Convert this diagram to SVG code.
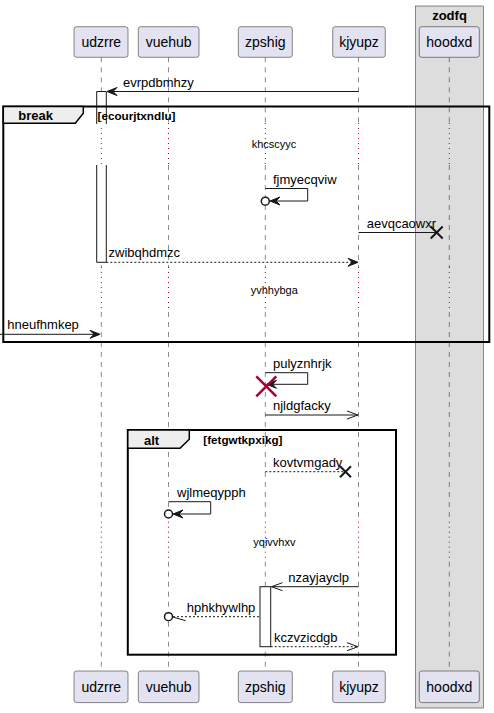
<svg xmlns="http://www.w3.org/2000/svg" width="494" height="713" viewBox="0 0 494 713">
  <defs>
    <style>
      text { font-family: "Liberation Sans", Arial, sans-serif; fill: #000; }
      .pbox { fill: #E2E2F0; stroke: #181818; stroke-width: 0.5; }
      .pname { font-size: 14px; text-anchor: middle; }
      .life { stroke: #181818; stroke-width: 0.5; stroke-dasharray: 5,5; fill: none; }
      .delay { stroke: #A80036; stroke-width: 1; stroke-dasharray: 1,4; fill: none; }
      .msg { stroke: #181818; stroke-width: 1; fill: none; }
      .dash { stroke-dasharray: 2,2; }
      .head { fill: #181818; stroke: #181818; stroke-width: 1; }
      .lbl { font-size: 13px; }
      .dlbl { font-size: 11px; }
      .frame { fill: none; stroke: #000; stroke-width: 2; }
      .tab { fill: #EEEEEE; stroke: #000; stroke-width: 1.5; }
      .ftitle { font-size: 13px; font-weight: bold; }
      .fcond { font-size: 11.7px; font-weight: bold; }
      .act { fill: #FFFFFF; stroke: #181818; stroke-width: 1; }
      .kill { stroke: #181818; stroke-width: 2; }
      .end { fill: #FFFFFF; stroke: #181818; stroke-width: 1.5; }
    </style>
  </defs>
  <rect width="494" height="713" fill="#FFFFFF"/>

  <!-- box grouping hoodxd -->
  <g id="box-zodfq">
    <rect x="415.7" y="6" width="67.6" height="702" fill="#DDDDDD" stroke="#181818" stroke-width="0.5"/>
    <text x="449.5" y="20" class="ftitle" text-anchor="middle">zodfq</text>
  </g>

  <!-- lifelines: dashed, dotted during delays -->
  <g id="lifelines">
    <path class="life" d="M101.3,57.3V123 M101.3,165V267 M101.3,312V521.7 M101.3,561.7V671"/>
    <path class="life" d="M168.5,57.3V123 M168.5,165V267 M168.5,312V521.7 M168.5,561.7V671"/>
    <path class="life" d="M265.3,57.3V123 M265.3,165V267 M265.3,312V521.7 M265.3,561.7V671"/>
    <path class="life" d="M358.5,57.3V123 M358.5,165V267 M358.5,312V521.7 M358.5,561.7V671"/>
    <path class="life" d="M449.3,57.3V123 M449.3,165V267 M449.3,312V521.7 M449.3,561.7V671"/>
    <path class="delay" d="M101.3,123V165 M168.5,123V165 M265.3,123V165 M358.5,123V165 M449.3,123V165"/>
    <path class="delay" d="M101.3,267V312 M168.5,267V312 M265.3,267V312 M358.5,267V312 M449.3,267V312"/>
    <path class="delay" d="M101.3,521.7V561.7 M168.5,521.7V561.7 M265.3,521.7V561.7 M358.5,521.7V561.7 M449.3,521.7V561.7"/>
  </g>

  <!-- activations -->
  <g id="activations">
    <path class="act" d="M96.7,124V91.5H106.3V124"/>
    <path class="act" d="M96.7,165V262.3H106.3V165"/>
    <rect class="act" x="260" y="586.7" width="10.7" height="60"/>
  </g>

  <!-- participants -->
  <g id="udzrre">
    <rect class="pbox" x="74" y="26.7" width="54" height="30.6" rx="2.5"/>
    <text class="pname" x="101.3" y="47">udzrre</text>
    <rect class="pbox" x="74" y="671" width="54" height="31.6" rx="2.5"/>
    <text class="pname" x="101.3" y="691.5">udzrre</text>
  </g>
  <g id="vuehub">
    <rect class="pbox" x="138.3" y="26.7" width="60.7" height="30.6" rx="2.5"/>
    <text class="pname" x="168.6" y="47">vuehub</text>
    <rect class="pbox" x="138.3" y="671" width="60.7" height="31.6" rx="2.5"/>
    <text class="pname" x="168.6" y="691.5">vuehub</text>
  </g>
  <g id="zpshig">
    <rect class="pbox" x="238.3" y="26.7" width="54" height="30.6" rx="2.5"/>
    <text class="pname" x="265.3" y="47">zpshig</text>
    <rect class="pbox" x="238.3" y="671" width="54" height="31.6" rx="2.5"/>
    <text class="pname" x="265.3" y="691.5">zpshig</text>
  </g>
  <g id="kjyupz">
    <rect class="pbox" x="332.7" y="26.7" width="52.6" height="30.6" rx="2.5"/>
    <text class="pname" x="359" y="47">kjyupz</text>
    <rect class="pbox" x="332.7" y="671" width="52.6" height="31.6" rx="2.5"/>
    <text class="pname" x="359" y="691.5">kjyupz</text>
  </g>
  <g id="hoodxd">
    <rect class="pbox" x="419.3" y="26.7" width="60" height="30.6" rx="2.5"/>
    <text class="pname" x="449.3" y="47">hoodxd</text>
    <rect class="pbox" x="419.3" y="671" width="60" height="31.6" rx="2.5"/>
    <text class="pname" x="449.3" y="691.5">hoodxd</text>
  </g>

  <!-- combined fragments -->
  <g id="frame-break">
    <rect class="frame" x="3.3" y="106.5" width="486" height="235.5"/>
    <path class="tab" d="M3.3,106.5H83.3V113.3L75.3,123.3H3.3Z"/>
    <text class="ftitle" x="18.3" y="120">break</text>
    <text class="fcond" x="97.5" y="119.5">[ecourjtxndlu]</text>
  </g>
  <g id="frame-alt">
    <rect class="frame" x="127.8" y="430" width="268.2" height="224.7"/>
    <path class="tab" d="M127.8,430H189.3V439.3L180,448.3H127.8Z"/>
    <text class="ftitle" x="144" y="444.5">alt</text>
    <text class="fcond" x="203.3" y="443.5">[fetgwtkpxikg]</text>
  </g>

  <!-- delay labels -->
  <g id="delays">
    <text class="dlbl" x="251.7" y="148">khcscyyc</text>
    <text class="dlbl" x="250.7" y="293.5">yvhhybga</text>
    <text class="dlbl" x="253.3" y="546">yqivvhxv</text>
  </g>

  <!-- messages -->
  <g id="connectors">
    <!-- evrpdbmhzy -->
    <line class="msg" x1="358.5" y1="91.5" x2="108" y2="91.5"/>
    <polygon class="head" points="107,91.5 117,87.5 113,91.5 117,95.5"/>
    <text class="lbl" x="123" y="86.5">evrpdbmhzy</text>

    <!-- fjmyecqviw -->
    <polyline class="msg" points="265.3,188.5 307.7,188.5 307.7,201 271,201"/>
    <polygon class="head" points="270,201 280,197 276,201 280,205"/>
    <circle class="end" cx="265.3" cy="201.2" r="4"/>
    <text class="lbl" x="273" y="183.5">fjmyecqviw</text>

    <!-- aevqcaowxr -->
    <line class="msg" x1="358.5" y1="232.5" x2="436.7" y2="232.5"/>
    <path class="kill" d="M430.7,226.5L442.7,238.5M442.7,226.5L430.7,238.5"/>
    <text class="lbl" x="366.7" y="227.5">aevqcaowxr</text>

    <!-- zwibqhdmzc -->
    <line class="msg dash" x1="106.3" y1="262.3" x2="357" y2="262.3"/>
    <polygon class="head" points="358,262.3 348,258.3 352,262.3 348,266.3"/>
    <text class="lbl" x="108.5" y="257.3">zwibqhdmzc</text>

    <!-- hneufhmkep -->
    <line class="msg" x1="0" y1="334.3" x2="99" y2="334.3"/>
    <polygon class="head" points="100,334.3 90,330.3 94,334.3 90,338.3"/>
    <text class="lbl" x="7.3" y="329.3">hneufhmkep</text>

    <!-- pulyznhrjk -->
    <polyline class="msg" points="265.3,372.7 307.7,372.7 307.7,384.3 267,384.3"/>
    <polygon class="head" points="266.5,384.3 276.5,380.3 272.5,384.3 276.5,388.3"/>
    <path d="M256.3,376.3L276.3,396.3M276.3,376.3L256.3,396.3" stroke="#A80036" stroke-width="2.5"/>
    <text class="lbl" x="273" y="367.5">pulyznhrjk</text>

    <!-- njldgfacky -->
    <line class="msg" x1="265.3" y1="415" x2="358" y2="415"/>
    <path class="msg" d="M347,411L358,415L347,419"/>
    <text class="lbl" x="273" y="410">njldgfacky</text>

    <!-- kovtvmgady -->
    <line class="msg dash" x1="265.3" y1="471.7" x2="345.5" y2="471.7"/>
    <path class="kill" d="M340,466.2L351,477.2M351,466.2L340,477.2"/>
    <text class="lbl" x="273" y="466.5">kovtvmgady</text>

    <!-- wjlmeqypph -->
    <polyline class="msg" points="168.5,501.7 210.7,501.7 210.7,514 174,514"/>
    <polygon class="head" points="173,514 183,510 179,514 183,518"/>
    <circle class="end" cx="168.5" cy="514" r="4"/>
    <text class="lbl" x="177" y="496.7">wjlmeqypph</text>

    <!-- nzayjayclp -->
    <line class="msg" x1="358.5" y1="586.7" x2="271.5" y2="586.7"/>
    <path class="msg" d="M282.5,582.7L271.5,586.7L282.5,590.7"/>
    <text class="lbl" x="288.3" y="581.7">nzayjayclp</text>

    <!-- hphkhywlhp -->
    <line class="msg dash" x1="259" y1="616.7" x2="173" y2="616.7"/>
    <path class="msg" d="M173.3,617.2L185.7,620.7"/>
    <circle class="end" cx="168.5" cy="616.7" r="4"/>
    <text class="lbl" x="186.7" y="611.7">hphkhywlhp</text>

    <!-- kczvzicdgb -->
    <line class="msg dash" x1="270.7" y1="646.7" x2="358" y2="646.7"/>
    <path class="msg" d="M347,642.7L358,646.7L347,650.7"/>
    <text class="lbl" x="274" y="641.7">kczvzicdgb</text>
  </g>
</svg>
